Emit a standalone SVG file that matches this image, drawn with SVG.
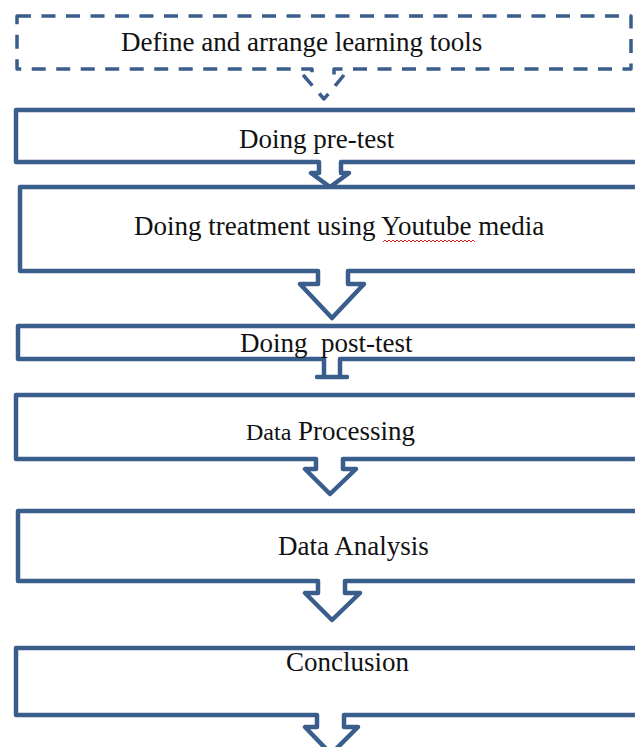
<svg xmlns="http://www.w3.org/2000/svg" width="635" height="747" viewBox="0 0 635 747">
<style>
.box{fill:#fff;stroke:#3a5e8c;stroke-width:4.5;stroke-linejoin:round}
.dash{fill:#fff;stroke:#3a5e8c;stroke-width:3.5;stroke-dasharray:14 10.5;stroke-linejoin:round}
.t{font-family:"Liberation Serif","Times New Roman",serif;font-size:27px;fill:#111}
</style>
<rect width="635" height="747" fill="#fff"/>
<g id="connectors"></g>
<g id="n1">
<path class="dash" d="M17,16 H631 V69 H334 V75 H344 L324,99 L304,76 H312 V69 H17 Z"/>
<text class="t" x="121" y="51">Define and arrange learning tools</text>
</g>
<g id="n2">
<path class="box" d="M16,110 H645 V162 H341 V173 H349 L330,187 L311,173 H319 V162 H16 Z"/>
<text class="t" x="239" y="148">Doing pre-test</text>
</g>
<g id="n3">
<path class="box" d="M20,187 H645 V271 H348 V284 H364 L332,318 L300,284 H318 V271 H20 Z"/>
<text class="t" x="134" y="235">Doing treatment using Youtube media</text>
<path d="M383,242 l2,-2 l2,2 l2,-2 l2,2 l2,-2 l2,2 l2,-2 l2,2 l2,-2 l2,2 l2,-2 l2,2 l2,-2 l2,2 l2,-2 l2,2 l2,-2 l2,2 l2,-2 l2,2 l2,-2 l2,2 l2,-2 l2,2 l2,-2 l2,2 l2,-2 l2,2 l2,-2 l2,2 l2,-2 l2,2 l2,-2 l2,2 l2,-2 l2,2 l2,-2 l2,2 l2,-2 l2,2 l2,-2 l2,2 l2,-2 l2,2 l2,-2 l2,2" fill="none" stroke="#e02020" stroke-width="1"/>
</g>
<g id="n4">
<path class="box" d="M18,326 H645 V359 H340 V377 H347 H317 H324 V359 H18 Z"/>
<text class="t" x="240" y="352" xml:space="preserve">Doing  post-test</text>
</g>
<g id="n5">
<path class="box" d="M16,395 H645 V459 H343 V469 H356 L330,494 L305,469 H316 V459 H16 Z"/>
<text class="t" x="246" y="440"><tspan font-size="24">Data</tspan> Processing</text>
</g>
<g id="n6">
<path class="box" d="M18,511 H645 V581 H345 V593 H360 L332,620 L305,593 H318 V581 H18 Z"/>
<text class="t" x="278" y="555">Data Analysis</text>
</g>
<g id="n7">
<path class="box" d="M16,648 H645 V715 H344 V727 H358 L331,754 L305,727 H317 V715 H16 Z"/>
<text class="t" x="286" y="671">Conclusion</text>
</g>
</svg>
